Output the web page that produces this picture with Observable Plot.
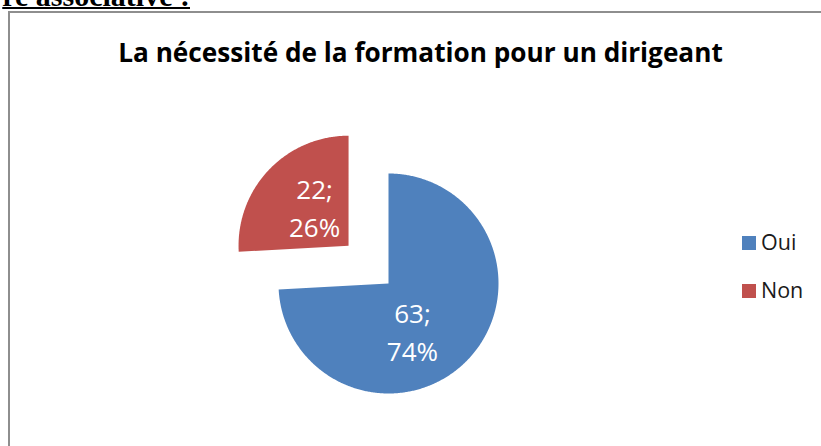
<!DOCTYPE html>
<html><head><meta charset="utf-8">
<script src="https://cdn.jsdelivr.net/npm/d3@7"></script>
<script src="https://cdn.jsdelivr.net/npm/@observablehq/plot@0.6"></script>
<style>
html,body{margin:0;padding:0;background:#fff;overflow:hidden;width:821px;height:446px;position:relative;}
#heading{position:absolute;right:631px;top:-19px;font:bold 30px "Liberation Serif","Times New Roman",serif;line-height:30px;text-decoration:underline;text-decoration-thickness:2px;white-space:nowrap;color:#000;}
#frame{position:absolute;left:8px;top:11px;width:900px;height:500px;border:2px solid #8e8e8e;}
#chart{position:absolute;left:0;top:0;}
#title{position:absolute;left:0;width:841px;height:0;line-height:0;text-align:center;font-family:"Open Sans",sans-serif;font-weight:bold;color:#000;white-space:nowrap;}
.lg-sw{position:absolute;width:14px;height:14px;}
.lg-tx{position:absolute;height:0;line-height:0;font-family:"Open Sans",sans-serif;font-size:21.5px;color:#1a1a1a;white-space:nowrap;}
</style>
</head>
<body>
<div id="heading">re associative :</div>
<div id="frame"></div>
<div id="chart"></div>
<div id="title"></div>
<div id="legend"></div>
<script>
// ---- data ----
const titleText = "La nécessité de la formation pour un dirigeant";
const categories = ["Oui", "Non"];
const counts = [63, 22];
const percents = ["74%", "26%"];
const colors = ["#4f81bd", "#c0504d"];

// ---- layout / style ----
const W = 821, H = 446;
const R = 110;              // pie radius in px
const cx = 388, cy = 283;   // pie centre in px
const explodeBy = {Non: 0.5};
const labelFont = 26;

// title sized to its width in the reference
const ctx = document.createElement("canvas").getContext("2d");
ctx.font = 'bold 100px "Open Sans"';
const tfs = 100 * 605 / ctx.measureText(titleText).width;
const title = document.getElementById("title");
title.textContent = titleText;
title.style.fontSize = tfs + "px";
title.style.top = (62 - 0.388 * tfs) + "px";

// slices as polygons in radius units
const arcs = d3.pie().sort(null).value(d => d)(counts);
const slices = [];
const labels = [];
arcs.forEach((a, i) => {
  const cat = categories[i];
  const mid = (a.startAngle + a.endAngle) / 2;
  const e = explodeBy[cat] || 0;
  const ox = e * Math.sin(mid), oy = e * Math.cos(mid);
  slices.push({category: cat, x: ox, y: oy});
  const n = Math.max(2, Math.ceil((a.endAngle - a.startAngle) / (Math.PI / 360)));
  for (let k = 0; k <= n; k++) {
    const t = a.startAngle + (a.endAngle - a.startAngle) * k / n;
    slices.push({category: cat, x: ox + Math.sin(t), y: oy + Math.cos(t)});
  }
  slices.push({category: cat, x: ox, y: oy});
  labels.push({category: cat, x: ox + 0.5 * Math.sin(mid), y: oy + 0.5 * Math.cos(mid),
               text: `${counts[i]};\n${percents[i]}`});
});

const textOpts = {x: "x", y: "y", text: "text", fill: "white", fontSize: labelFont,
  fontFamily: "Open Sans, sans-serif", lineHeight: 1.46, textAnchor: "middle", lineAnchor: "middle"};

const plot = Plot.plot({
  width: W, height: H, margin: 0,
  x: {domain: [-cx / R, (W - cx) / R], axis: null},
  y: {domain: [-(H - cy) / R, cy / R], axis: null},
  color: {domain: categories, range: colors},
  style: {background: "transparent", overflow: "visible"},
  marks: [
    Plot.line(slices, {x: "x", y: "y", z: "category", fill: "category", stroke: "none", curve: "linear"}),
    Plot.text(labels.filter(d => d.category === "Oui"), {...textOpts, dx: -16, dy: 9}),
    Plot.text(labels.filter(d => d.category === "Non"), {...textOpts, dx: 6, dy: -2})
  ]
});
document.getElementById("chart").appendChild(plot);

// legend
const legend = document.getElementById("legend");
categories.forEach((c, i) => {
  const sw = document.createElement("div");
  sw.className = "lg-sw";
  sw.style.left = "742px";
  sw.style.top = (236 + i * 47.5) + "px";
  sw.style.background = colors[i];
  legend.appendChild(sw);
  const tx = document.createElement("div");
  tx.className = "lg-tx";
  tx.style.left = "761px";
  tx.style.top = (250.5 + i * 47.5 - 0.388 * 21.5) + "px";
  tx.textContent = c;
  legend.appendChild(tx);
});
</script>
</body></html>
